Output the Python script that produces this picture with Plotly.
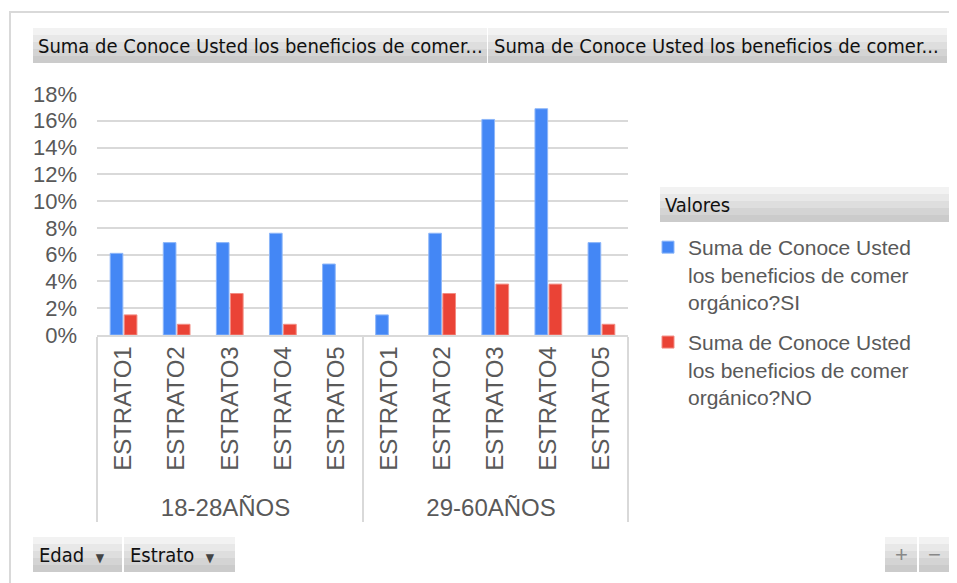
import plotly.graph_objects as go

# data (share of respondents)
edades = ["18-28AÑOS"] * 5 + ["29-60AÑOS"] * 5
estratos = ["ESTRATO1", "ESTRATO2", "ESTRATO3", "ESTRATO4", "ESTRATO5"] * 2
si_vals = [0.061, 0.069, 0.069, 0.076, 0.053, 0.015, 0.076, 0.161, 0.169, 0.069]
no_vals = [0.015, 0.008, 0.031, 0.008, None, None, 0.031, 0.038, 0.038, 0.008]
y_ticks = [0, 0.02, 0.04, 0.06, 0.08, 0.10, 0.12, 0.14, 0.16, 0.18]

SERIES_SI = "Suma de Conoce Usted<br>los beneficios de comer<br>orgánico?SI"
SERIES_NO = "Suma de Conoce Usted<br>los beneficios de comer<br>orgánico?NO"

COLORS = {
    "si": "#4487f5",
    "si_edge": "#8db6f9",
    "no": "#ea4336",
    "no_edge": "#f28b82",
    "grid": "#d9d9d9",
    "text": "#595959",
}

# the page body adds an 8px margin, so layout is placed in screen px minus 8
OFF = 8
W, H = 957, 583
L, R, T, B = 97 - OFF, 628 - OFF, 94 - OFF, 335 - OFF


def px(x):
    return (x - OFF - L) / (R - L)


def py(y):
    return (B - (y - OFF)) / (B - T)


def button(x0, y0, x1, y1):
    """Grey gradient-ish field button, built from stacked bands."""
    shapes = []
    bands = ["#f2f2f2", "#e8e8e8", "#dedede", "#d4d4d4", "#cbcbcb"]
    h = (y1 - y0) / len(bands)
    for i, c in enumerate(bands):
        shapes.append(dict(type="rect", xref="paper", yref="paper",
                           x0=px(x0), x1=px(x1), y0=py(y0 + i * h), y1=py(y0 + (i + 1) * h),
                           fillcolor=c, line=dict(width=0), layer="below"))
    return shapes


fig = go.Figure()
fig.add_trace(go.Bar(
    x=[edades, estratos], y=si_vals, name=SERIES_SI, legendgroup="si",
    marker=dict(color=COLORS["si"], line=dict(color=COLORS["si_edge"], width=1)),
))
fig.add_trace(go.Bar(
    x=[edades, estratos], y=no_vals, name=SERIES_NO, legendgroup="no",
    marker=dict(color=COLORS["no"], line=dict(color=COLORS["no_edge"], width=1)),
))

# outer chart frame (left edge pinned to the page edge)
shapes = [dict(type="rect", xref="paper", yref="paper",
               x0=px(OFF + 2), x1=px(975), y0=py(12), y1=py(600),
               line=dict(color="#d9d9d9", width=2), fillcolor="rgba(0,0,0,0)", layer="below")]
for b in [(33, 28, 487, 63), (488, 28, 947, 63), (660, 187, 952, 222),
          (33, 537, 122, 572), (124, 537, 235, 572), (885, 537, 917, 572), (919, 537, 950, 572)]:
    shapes += button(*b)

btn_font = dict(family="Liberation Sans Narrow, DejaVu Sans Condensed, Liberation Sans", size=20, color="#111111")
annotations = [
    dict(text="Suma de Conoce Usted los beneficios de comer...", x=px(36), y=py(46), xanchor="left"),
    dict(text="Suma de Conoce Usted los beneficios de comer...", x=px(492), y=py(46), xanchor="left"),
    dict(text="Valores", x=px(663), y=py(205), xanchor="left"),
    dict(text="Edad  <span style='font-size:12px;color:#444'>▼</span>", x=px(37), y=py(555), xanchor="left"),
    dict(text="Estrato  <span style='font-size:12px;color:#444'>▼</span>", x=px(128), y=py(555), xanchor="left"),
    dict(text="+", x=px(901), y=py(554), xanchor="center", font=dict(size=22, color="#888888")),
    dict(text="−", x=px(934), y=py(554), xanchor="center", font=dict(size=22, color="#888888")),
]
for a in annotations:
    a.update(xref="paper", yref="paper", yanchor="middle", showarrow=False)
    a.setdefault("font", btn_font)

fig.update_layout(
    width=W, height=H,
    margin=dict(l=L, r=W - R, t=T, b=H - B),
    plot_bgcolor="white", paper_bgcolor="white",
    barmode="group", bargap=0.47, bargroupgap=0.1,
    font=dict(family="Liberation Sans, Arial", color=COLORS["text"], size=21),
    showlegend=True,
    legend=dict(x=px(648), y=py(227), xanchor="left", yanchor="top", valign="top",
                font=dict(size=21, color=COLORS["text"]), tracegroupgap=10,
                bgcolor="rgba(0,0,0,0)"),
    shapes=shapes,
    annotations=annotations,
)
fig.update_yaxes(range=[0, 0.18], tickvals=y_ticks, tickformat=".0%",
                 gridcolor=COLORS["grid"], gridwidth=1.5, zeroline=False, showline=False,
                 ticks="", ticklabelstandoff=19, tickfont=dict(size=22), fixedrange=True)
fig.update_xaxes(type="multicategory", tickangle=-90, showline=True, linecolor=COLORS["grid"],
                 linewidth=1.5, showdividers=True, dividercolor=COLORS["grid"], dividerwidth=1.5,
                 tickfont=dict(size=24, color=COLORS["text"]), ticks="")

fig.write_html("out.html")
